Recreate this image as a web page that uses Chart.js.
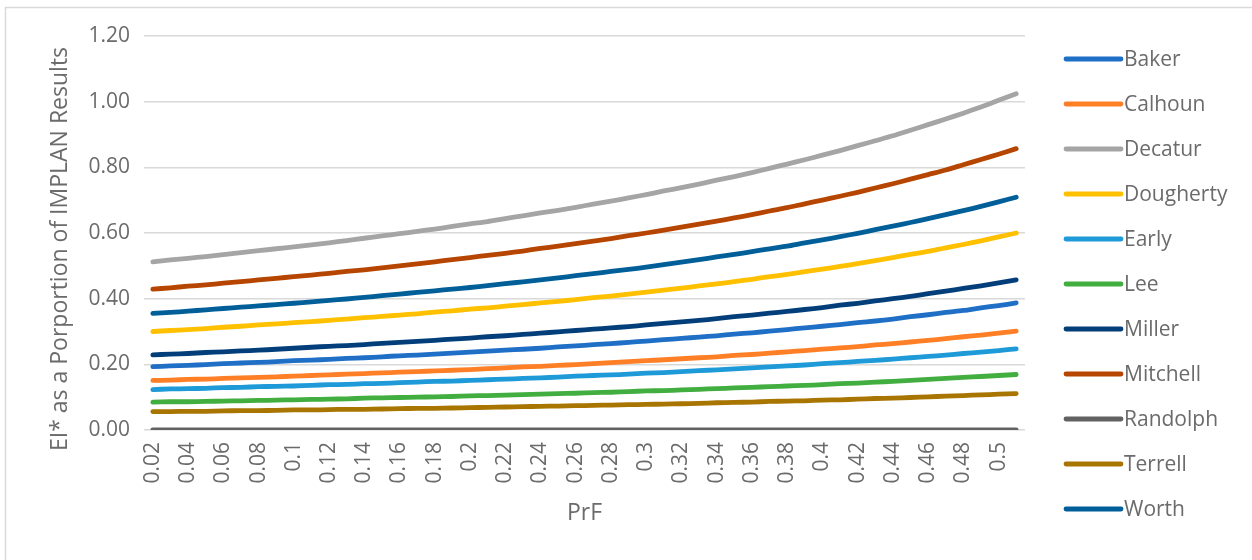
<!DOCTYPE html>
<html>
<head>
<meta charset="utf-8">
<style>
  html, body { margin: 0; padding: 0; background: #ffffff; }
  #wrap { position: relative; width: 1252px; height: 560px; }
</style>
<script src="https://cdn.jsdelivr.net/npm/chart.js@4.4.1/dist/chart.umd.min.js"></script>
</head>
<body>
<div id="wrap"><canvas id="chart" width="1252" height="560"></canvas></div>
<script>
// PrF categories (x axis)
const prf = [0.02, 0.03, 0.04, 0.05, 0.06, 0.07, 0.08, 0.09, 0.1, 0.11,
             0.12, 0.13, 0.14, 0.15, 0.16, 0.17, 0.18, 0.19, 0.2, 0.21,
             0.22, 0.23, 0.24, 0.25, 0.26, 0.27, 0.28, 0.29, 0.3, 0.31,
             0.32, 0.33, 0.34, 0.35, 0.36, 0.37, 0.38, 0.39, 0.4, 0.41,
             0.42, 0.43, 0.44, 0.45, 0.46, 0.47, 0.48, 0.49, 0.5, 0.51];

// Y axis ticks
const yTicks = [0, 0.2, 0.4, 0.6, 0.8, 1.0, 1.2];

// EI* as a proportion of IMPLAN results, one array per county
const baker = [0.193, 0.195, 0.197, 0.199, 0.202, 0.204, 0.206, 0.208, 0.211, 0.213,
               0.215, 0.218, 0.220, 0.223, 0.226, 0.228, 0.231, 0.234, 0.237, 0.240,
               0.243, 0.246, 0.249, 0.253, 0.256, 0.260, 0.263, 0.267, 0.271, 0.275,
               0.279, 0.283, 0.287, 0.292, 0.296, 0.301, 0.306, 0.311, 0.316, 0.321,
               0.327, 0.332, 0.338, 0.345, 0.351, 0.358, 0.364, 0.372, 0.379, 0.387];
const calhoun = [0.151, 0.152, 0.154, 0.155, 0.157, 0.159, 0.160, 0.162, 0.164, 0.166,
                 0.168, 0.170, 0.172, 0.174, 0.176, 0.178, 0.180, 0.182, 0.184, 0.187,
                 0.189, 0.192, 0.194, 0.197, 0.199, 0.202, 0.205, 0.208, 0.211, 0.214,
                 0.217, 0.220, 0.223, 0.227, 0.230, 0.234, 0.238, 0.242, 0.246, 0.250,
                 0.254, 0.259, 0.263, 0.268, 0.273, 0.278, 0.284, 0.289, 0.295, 0.301];
const decatur = [0.512, 0.518, 0.523, 0.528, 0.534, 0.540, 0.546, 0.552, 0.558, 0.564,
                 0.570, 0.577, 0.584, 0.591, 0.598, 0.605, 0.612, 0.620, 0.628, 0.635,
                 0.644, 0.652, 0.661, 0.669, 0.678, 0.688, 0.697, 0.707, 0.717, 0.728,
                 0.738, 0.749, 0.761, 0.772, 0.784, 0.797, 0.810, 0.823, 0.837, 0.851,
                 0.866, 0.881, 0.896, 0.913, 0.930, 0.947, 0.965, 0.984, 1.004, 1.024];
const dougherty = [0.300, 0.303, 0.306, 0.309, 0.313, 0.316, 0.320, 0.323, 0.327, 0.330,
                   0.334, 0.338, 0.342, 0.346, 0.350, 0.354, 0.359, 0.363, 0.368, 0.372,
                   0.377, 0.382, 0.387, 0.392, 0.397, 0.403, 0.408, 0.414, 0.420, 0.426,
                   0.432, 0.439, 0.445, 0.452, 0.459, 0.467, 0.474, 0.482, 0.490, 0.498,
                   0.507, 0.516, 0.525, 0.535, 0.544, 0.555, 0.565, 0.576, 0.588, 0.600];
const early = [0.123, 0.125, 0.126, 0.127, 0.129, 0.130, 0.132, 0.133, 0.134, 0.136,
               0.138, 0.139, 0.141, 0.142, 0.144, 0.146, 0.148, 0.149, 0.151, 0.153,
               0.155, 0.157, 0.159, 0.161, 0.164, 0.166, 0.168, 0.170, 0.173, 0.175,
               0.178, 0.181, 0.183, 0.186, 0.189, 0.192, 0.195, 0.198, 0.202, 0.205,
               0.209, 0.212, 0.216, 0.220, 0.224, 0.228, 0.233, 0.237, 0.242, 0.247];
const lee = [0.085, 0.086, 0.086, 0.087, 0.088, 0.089, 0.090, 0.091, 0.092, 0.093,
             0.094, 0.095, 0.097, 0.098, 0.099, 0.100, 0.101, 0.102, 0.104, 0.105,
             0.106, 0.108, 0.109, 0.111, 0.112, 0.114, 0.115, 0.117, 0.119, 0.120,
             0.122, 0.124, 0.126, 0.128, 0.130, 0.132, 0.134, 0.136, 0.138, 0.141,
             0.143, 0.146, 0.148, 0.151, 0.154, 0.157, 0.160, 0.163, 0.166, 0.169];
const miller = [0.229, 0.231, 0.233, 0.236, 0.238, 0.241, 0.243, 0.246, 0.249, 0.252,
                0.255, 0.257, 0.260, 0.264, 0.267, 0.270, 0.273, 0.277, 0.280, 0.284,
                0.287, 0.291, 0.295, 0.299, 0.303, 0.307, 0.311, 0.315, 0.320, 0.325,
                0.329, 0.334, 0.339, 0.345, 0.350, 0.356, 0.361, 0.367, 0.373, 0.380,
                0.386, 0.393, 0.400, 0.407, 0.415, 0.423, 0.431, 0.439, 0.448, 0.457];
const mitchell = [0.429, 0.433, 0.438, 0.442, 0.447, 0.452, 0.457, 0.462, 0.467, 0.472,
                  0.477, 0.483, 0.488, 0.494, 0.500, 0.506, 0.512, 0.519, 0.525, 0.532,
                  0.538, 0.545, 0.553, 0.560, 0.568, 0.575, 0.583, 0.592, 0.600, 0.609,
                  0.618, 0.627, 0.636, 0.646, 0.656, 0.667, 0.677, 0.689, 0.700, 0.712,
                  0.724, 0.737, 0.750, 0.764, 0.778, 0.792, 0.808, 0.824, 0.840, 0.857];
const randolph = [0, 0, 0, 0, 0, 0, 0, 0, 0, 0,
                  0, 0, 0, 0, 0, 0, 0, 0, 0, 0,
                  0, 0, 0, 0, 0, 0, 0, 0, 0, 0,
                  0, 0, 0, 0, 0, 0, 0, 0, 0, 0,
                  0, 0, 0, 0, 0, 0, 0, 0, 0, 0];
const terrell = [0.056, 0.056, 0.057, 0.057, 0.058, 0.059, 0.059, 0.060, 0.061, 0.061,
                 0.062, 0.063, 0.063, 0.064, 0.065, 0.066, 0.066, 0.067, 0.068, 0.069,
                 0.070, 0.071, 0.072, 0.073, 0.074, 0.075, 0.076, 0.077, 0.078, 0.079,
                 0.080, 0.081, 0.083, 0.084, 0.085, 0.087, 0.088, 0.089, 0.091, 0.092,
                 0.094, 0.096, 0.097, 0.099, 0.101, 0.103, 0.105, 0.107, 0.109, 0.111];
const worth = [0.355, 0.358, 0.362, 0.366, 0.370, 0.374, 0.378, 0.382, 0.386, 0.390,
               0.395, 0.399, 0.404, 0.409, 0.414, 0.419, 0.424, 0.429, 0.434, 0.440,
               0.446, 0.451, 0.457, 0.463, 0.470, 0.476, 0.483, 0.489, 0.496, 0.504,
               0.511, 0.519, 0.527, 0.535, 0.543, 0.552, 0.560, 0.570, 0.579, 0.589,
               0.599, 0.610, 0.621, 0.632, 0.644, 0.656, 0.668, 0.681, 0.695, 0.709];

const counties = ['Baker', 'Calhoun', 'Decatur', 'Dougherty', 'Early', 'Lee',
                  'Miller', 'Mitchell', 'Randolph', 'Terrell', 'Worth'];
const seriesValues = [baker, calhoun, decatur, dougherty, early, lee,
                      miller, mitchell, randolph, terrell, worth];
const seriesColors = ['#1f6fc6', '#ff7f27', '#a5a5a5', '#ffc000', '#1e9ad8', '#41ae3f',
                      '#023f7a', '#b64500', '#626262', '#a87500', '#005e99'];

const yTitle = 'EI* as a Porportion of IMPLAN Results';
const xTitle = 'PrF';

const FONT = '"Open Sans", "DejaVu Sans", sans-serif';
const TEXT = '#6b6b6b';
const LINE_W = 4.8;

// Frame lines at the top and left edge of the figure
const framePlugin = {
  id: 'frame',
  beforeDraw(chart) {
    const ctx = chart.ctx;
    ctx.save();
    ctx.strokeStyle = '#d9d9d9';
    ctx.lineWidth = 1.5;
    ctx.beginPath();
    ctx.moveTo(5.5, chart.height);
    ctx.lineTo(5.5, 7.5);
    ctx.lineTo(chart.width, 7.5);
    ctx.stroke();
    ctx.restore();
  }
};

// Vertical axis title, set slightly below the middle of the plot
const yTitlePlugin = {
  id: 'yTitle',
  afterDraw(chart) {
    const ctx = chart.ctx;
    const area = chart.chartArea;
    ctx.save();
    ctx.translate(60, (area.top + area.bottom) / 2 + 16);
    ctx.rotate(-Math.PI / 2);
    ctx.font = '23px ' + FONT;
    ctx.fillStyle = TEXT;
    ctx.textAlign = 'center';
    ctx.textBaseline = 'middle';
    ctx.fillText(yTitle, 0, 0);
    ctx.restore();
  }
};

// Legend column to the right of the plot: a short line and the county name
const sideLegend = {
  id: 'sideLegend',
  afterDraw(chart) {
    const ctx = chart.ctx;
    const area = chart.chartArea;
    const x0 = area.right + 41;
    const x1 = x0 + 55;
    const step = 45;
    const top = area.top + 23;
    ctx.save();
    ctx.font = '21px ' + FONT;
    ctx.textBaseline = 'middle';
    ctx.textAlign = 'left';
    chart.data.datasets.forEach((ds, i) => {
      const y = top + i * step;
      ctx.strokeStyle = ds.borderColor;
      ctx.lineWidth = LINE_W;
      ctx.lineCap = 'round';
      ctx.beginPath();
      ctx.moveTo(x0, y);
      ctx.lineTo(x1, y);
      ctx.stroke();
      ctx.fillStyle = TEXT;
      ctx.fillText(ds.label, x1 + 3, y + 1);
    });
    ctx.restore();
  }
};

const datasets = counties.map((name, i) => ({
  label: name,
  data: seriesValues[i],
  borderColor: seriesColors[i],
  backgroundColor: seriesColors[i],
  borderWidth: LINE_W,
  borderCapStyle: 'round',
  borderJoinStyle: 'round',
  pointRadius: 0,
  pointHoverRadius: 0,
  tension: 0.3,
  fill: false
}));

new Chart(document.getElementById('chart'), {
  type: 'line',
  data: { labels: prf.map(String), datasets: datasets },
  options: {
    responsive: false,
    animation: false,
    events: [],
    layout: { padding: { top: 36, right: 227, bottom: 0, left: 0 } },
    plugins: {
      legend: { display: false },
      tooltip: { enabled: false }
    },
    scales: {
      x: {
        type: 'category',
        offset: true,
        grid: { display: false, drawTicks: false },
        border: { display: false },
        ticks: {
          autoSkip: false,
          minRotation: 90,
          maxRotation: 90,
          padding: 12,
          color: TEXT,
          font: { family: FONT, size: 21 },
          callback: function (value, index) {
            return index % 2 === 0 ? this.getLabelForValue(value) : '';
          }
        },
        title: {
          display: true,
          text: xTitle,
          color: TEXT,
          font: { family: FONT, size: 23 },
          padding: { top: 0, bottom: 33 }
        },
        afterFit(scale) { scale.height = 130; }
      },
      y: {
        min: 0,
        max: 1.2,
        afterBuildTicks(scale) { scale.ticks = yTicks.map(v => ({ value: v })); },
        grid: { color: '#d9d9d9', lineWidth: 1.5, drawTicks: false },
        border: { display: false },
        ticks: {
          padding: 14,
          color: TEXT,
          font: { family: FONT, size: 21 },
          callback: v => Number(v).toFixed(2)
        },
        afterFit(scale) { scale.width = 144; }
      }
    }
  },
  plugins: [framePlugin, yTitlePlugin, sideLegend]
});
</script>
</body>
</html>
